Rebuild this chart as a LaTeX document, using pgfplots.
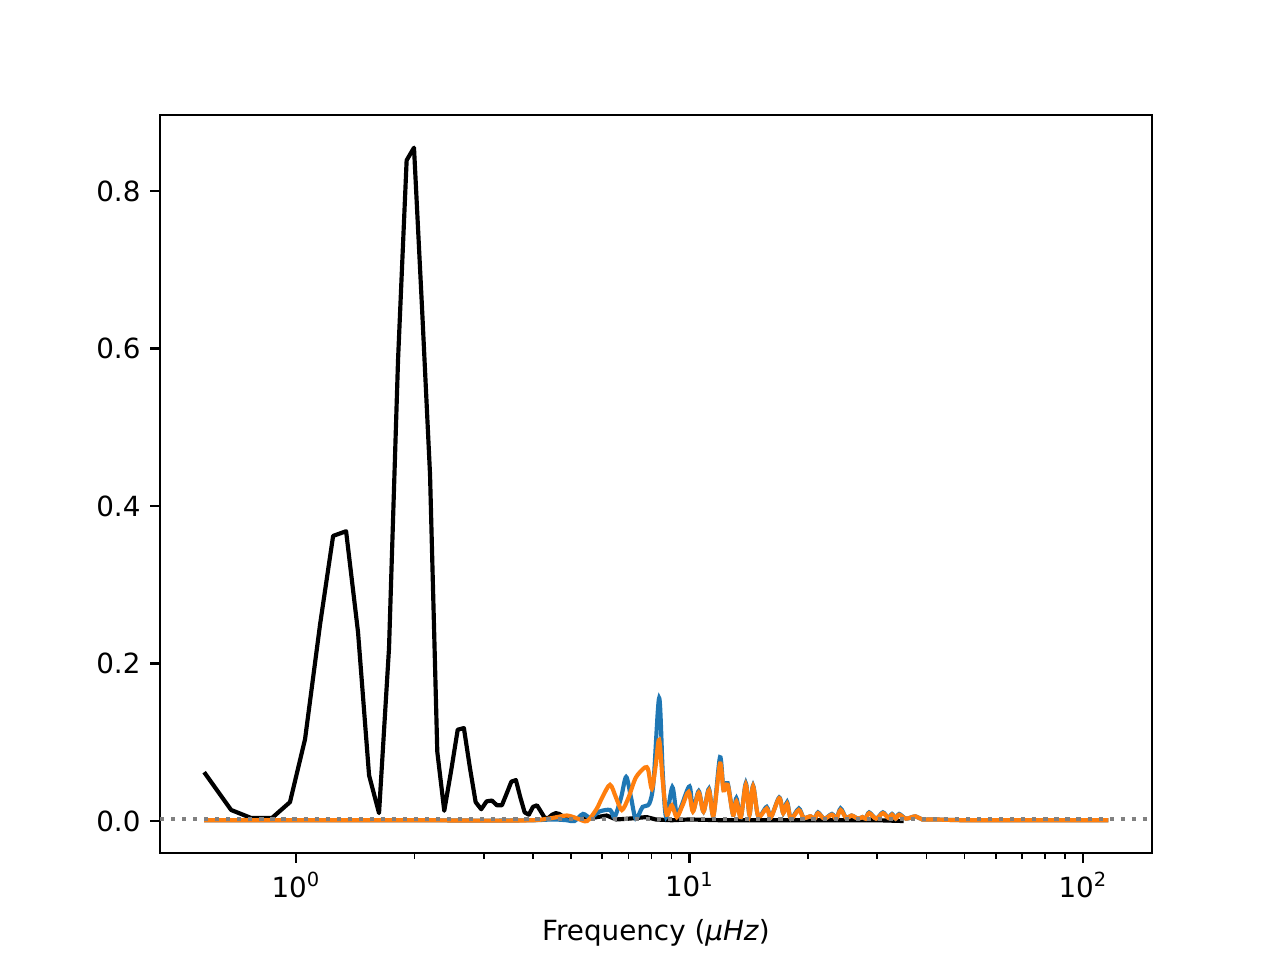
\documentclass[border=0pt]{standalone}
\usepackage{fontspec}
\setmainfont{DejaVu Sans}
\usepackage{pgfplots}
\pgfplotsset{compat=1.18}
\definecolor{mblue}{HTML}{1F77B4}
\definecolor{morange}{HTML}{FF7F0E}
\definecolor{mgrey}{HTML}{808080}
\begin{document}
\begin{tikzpicture}
\path[use as bounding box] (-57.6pt,-38.52pt) rectangle (403.2pt,307.08pt);
\begin{axis}[
  at={(0,0)}, anchor=south west,
  scale only axis, width=357.12pt, height=265.68pt,
  xmode=log, xmin=0.451, xmax=149.7,
  ymin=-0.0406, ymax=0.8965,
  xtick={1,10,100},
  xticklabels={10\textsuperscript{0},10\textsuperscript{1},10\textsuperscript{2}},
  ytick={0,0.2,0.4,0.6,0.8},
  yticklabel style={/pgf/number format/fixed,/pgf/number format/fixed zerofill,/pgf/number format/precision=1},
  /pgf/number format/assume math mode=true,
  tick align=outside, tick pos=left,
  major tick length=3.5pt, minor tick length=2pt,
  every tick/.style={black, line width=0.8pt},
  minor tick style={line width=0.6pt},
  axis line style={line width=0.8pt},
  tick label style={font=\fontsize{10}{12}\selectfont},
  xlabel={Frequency (\textit{μHz})},
  xlabel style={font=\fontsize{10}{12}\selectfont, yshift=-1pt},
  clip=true,
]
% black
\addplot[black, line width=1.5pt, line join=round] coordinates {
(0.584,0.062) (0.684,0.014) (0.768,0.004) (0.869,0.004) (0.965,0.024)
(1.054,0.104) (1.151,0.250) (1.242,0.362) (1.340,0.368) (1.437,0.240)
(1.533,0.058) (1.625,0.010) (1.723,0.220) (1.816,0.585) (1.910,0.839)
(1.994,0.855) (2.090,0.651) (2.19,0.44) (2.285,0.088) (2.38,0.013)
(2.48,0.065) (2.575,0.116) (2.67,0.118) (2.765,0.068) (2.86,0.024)
(2.955,0.015) (3.05,0.025) (3.145,0.026) (3.24,0.020) (3.335,0.020)
(3.43,0.035) (3.525,0.050) (3.62,0.052) (3.715,0.030) (3.81,0.011)
(3.905,0.008) (4.0,0.018) (4.095,0.020) (4.19,0.012) (4.285,0.004)
(4.38,0.004) (4.475,0.008) (4.57,0.010) (4.665,0.009) (4.76,0.006)
(5.0,0.004) (5.5,0.003) (6.16,0.007) (6.5,0.002) (7.0,0.003)
(7.78,0.005) (8.2,0.002) (9,0.001) (10,0.002) (12,0.001) (15,0.001)
(20,0.001) (25,0.001) (30,0.001) (35,0.0)
};
% blue
\addplot[mblue, line width=1.5pt, smooth, tension=0.5] coordinates {
(0.584,0.001) (1.0,0.001) (2.0,0.001) (3.0,0.0005) (4.0,0.001)
(4.5,0.002) (4.88,0.001) (5.1,0.0) (5.36,0.009) (5.6,0.004)
(5.9,0.012) (6.28,0.014) (6.45,0.005) (6.7,0.03) (6.9,0.056)
(7.1,0.03) (7.3,0.003) (7.6,0.018) (7.9,0.022) (8.1,0.05)
(8.37,0.156) (8.55,0.06) (8.72,0.005) (9.04,0.043) (9.28,0.008)
(9.55,0.02) (10.0,0.044) (10.2,0.013) (10.55,0.038) (10.85,0.012)
(11.2,0.041) (11.5,0.007) (11.95,0.081) (12.2,0.04) (12.5,0.048)
(12.9,0.008) (13.15,0.029) (13.5,0.005) (13.9,0.048) (14.2,0.008)
(14.5,0.045) (14.95,0.006) (15.7,0.018) (16.1,0.005) (16.9,0.030)
(17.3,0.01) (17.7,0.024) (18.1,0.003) (18.95,0.016) (19.5,0.004)
(20.3,0.006) (20.8,0.003) (21.2,0.011) (22.0,0.003) (23.0,0.009)
(23.6,0.003) (24.2,0.016) (25.0,0.004) (25.8,0.007) (26.8,0.003)
(27.5,0.005) (28.0,0.003) (28.6,0.011) (29.8,0.003) (31,0.011)
(32,0.004) (32.7,0.009) (33.4,0.003) (34.1,0.009) (35.5,0.003)
(37.5,0.006) (39,0.002) (42,0.002) (50,0.001) (70,0.001) (116,0.001)
};
% orange
\addplot[morange, line width=1.5pt, smooth, tension=0.5] coordinates {
(0.584,0.001) (1.0,0.001) (2.0,0.001) (3.0,0.0005) (4.0,0.001)
(4.5,0.004) (4.88,0.007) (5.2,0.003) (5.49,0.0) (5.8,0.015)
(6.0,0.03) (6.28,0.046) (6.5,0.03) (6.73,0.014) (7.0,0.03)
(7.3,0.055) (7.7,0.068) (7.85,0.065) (8.02,0.041) (8.2,0.07)
(8.37,0.103) (8.55,0.05) (8.75,0.008) (9.01,0.02) (9.28,0.005)
(9.6,0.02) (9.95,0.037) (10.2,0.012) (10.55,0.036) (10.85,0.012)
(11.2,0.039) (11.5,0.007) (11.95,0.073) (12.2,0.039) (12.5,0.046)
(12.9,0.008) (13.15,0.025) (13.5,0.005) (13.9,0.046) (14.2,0.008)
(14.5,0.044) (14.95,0.006) (15.7,0.016) (16.1,0.005) (16.9,0.029)
(17.3,0.01) (17.7,0.022) (18.1,0.003) (18.95,0.014) (19.5,0.004)
(20.3,0.006) (20.8,0.003) (21.2,0.01) (22.0,0.003) (23.0,0.008)
(23.6,0.003) (24.2,0.014) (25.0,0.004) (25.8,0.007) (26.8,0.003)
(27.5,0.005) (28.0,0.003) (28.6,0.01) (29.8,0.003) (31,0.01)
(32,0.004) (32.7,0.008) (33.4,0.003) (34.1,0.008) (35.5,0.003)
(37.5,0.006) (39,0.002) (42,0.002) (50,0.001) (70,0.001) (116,0.001)
};
% grey dotted
\addplot[mgrey, line width=1.5pt, dash pattern=on 1.5pt off 2.475pt] coordinates {(0.451,0.0025) (149.7,0.0025)};
\end{axis}
\end{tikzpicture}
\end{document}
